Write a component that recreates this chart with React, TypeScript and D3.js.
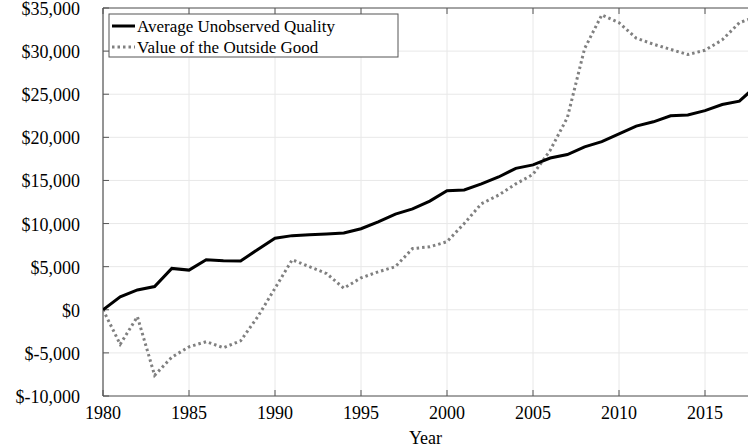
import React from "react";
import * as d3 from "d3";

const years = d3.range(1980, 2019);
const avgQuality = [0,1500,2300,2700,4800,4600,5800,5700,5650,7000,8300,8600,8700,8800,8900,9400,10200,11100,11700,12600,13800,13900,14600,15400,16400,16800,17600,18000,18900,19500,20400,21300,21800,22500,22600,23100,23800,24200,26000];
const outsideGood = [0,-4000,-800,-7600,-5500,-4300,-3700,-4400,-3600,-800,2500,5800,5000,4200,2500,3700,4400,5000,7100,7300,7900,10000,12300,13300,14600,15700,18500,22300,30300,34200,33300,31500,30800,30200,29600,30100,31300,33300,34000];
const xTicks = [1980,1985,1990,1995,2000,2005,2010,2015];
const yTicks = [-10000,-5000,0,5000,10000,15000,20000,25000,30000,35000];

export default function App() {
  const W = 748, H = 448;
  const L = 103, R = 748, T = 8, B = 396;
  const x = d3.scaleLinear().domain([1980, 2017.5]).range([L, L + 37.5 * 17.2]);
  const y = d3.scaleLinear().domain([-10000, 35000]).range([B, T]);
  const line = (vals: number[]) => d3.line<number>().x((_, i) => x(years[i])).y(v => y(v))(vals) || "";
  const fmt = (v: number) => "$" + (v < 0 ? "-" : "") + d3.format(",")(Math.abs(v));
  const font = "Liberation Serif, Times New Roman, serif";
  return (
    <svg width={W} height={H} style={{ position: "absolute", left: 0, top: 0, fontFamily: font }}>
      <defs><clipPath id="c"><rect x={L} y={T} width={R - L} height={B - T} /></clipPath></defs>
      {xTicks.map(t => <line key={"gx"+t} x1={x(t)} x2={x(t)} y1={T} y2={B} stroke="#e8e8e8" />)}
      {yTicks.map(t => <line key={"gy"+t} x1={L} x2={R} y1={y(t)} y2={y(t)} stroke="#e8e8e8" />)}
      <line x1={L} x2={L} y1={T} y2={B} stroke="#555" strokeWidth={1.2} />
      <line x1={L} x2={R} y1={B} y2={B} stroke="#555" strokeWidth={1.2} />
      <line x1={L} x2={R} y1={T} y2={T} stroke="#555" strokeWidth={1.2} />
      {xTicks.map(t => <g key={"k"+t}>
        <line x1={x(t)} x2={x(t)} y1={B} y2={B - 6} stroke="#555" />
        <line x1={x(t)} x2={x(t)} y1={T} y2={T + 6} stroke="#555" />
      </g>)}
      {yTicks.map(t => <line key={"ky"+t} x1={L} x2={L + 6} y1={y(t)} y2={y(t)} stroke="#555" />)}
      {xTicks.map(t => <text key={"tx"+t} x={x(t)} y={B + 23} textAnchor="middle" fontSize={18}>{t}</text>)}
      {yTicks.map(t => <text key={"ty"+t} x={L - 23} y={y(t) + 7} textAnchor="end" fontSize={18}>{fmt(t)}</text>)}
      <text x={(L + R) / 2} y={H - 4} textAnchor="middle" fontSize={18}>Year</text>
      <g clipPath="url(#c)">
        <path d={line(outsideGood)} fill="none" stroke="#808080" strokeWidth={3} strokeDasharray="2.5,3" />
        <path d={line(avgQuality)} fill="none" stroke="#000" strokeWidth={3} />
      </g>
      <rect x={109} y={14} width={289} height={43} fill="#fff" stroke="#555" strokeWidth={1} />
      <line x1={112} x2={135} y1={26} y2={26} stroke="#000" strokeWidth={3} />
      <text x={137} y={32} fontSize={17}>Average Unobserved Quality</text>
      <line x1={112} x2={135} y1={47} y2={47} stroke="#808080" strokeWidth={3} strokeDasharray="2.5,3" />
      <text x={137} y={53} fontSize={17}>Value of the Outside Good</text>
    </svg>
  );
}
